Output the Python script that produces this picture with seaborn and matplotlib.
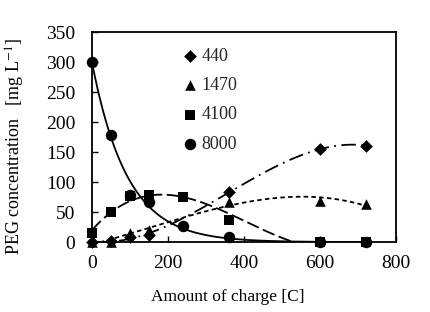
import numpy as np
import pandas as pd
import matplotlib
matplotlib.use("Agg")
import matplotlib.pyplot as plt
import seaborn as sns

# ======================
# datos
# ======================
charge = [0, 50, 100, 150, 240, 360, 600, 720]
peg_440 = [0, 2, 8, 12, np.nan, 83, 155, 161]
peg_1470 = [0, 1, 15, 20, np.nan, 67, 69, 63]
peg_4100 = [15, 50, 77, 78, 76, 37, 0, 0]
peg_8000 = [300, 178, 78, 67, 27, 9, 0, 0]
series_names = ["440", "1470", "4100", "8000"]

sns.set_theme(style="white")
plt.rcParams["font.family"] = ["Liberation Serif", "DejaVu Serif"]
plt.rcParams["mathtext.fontset"] = "stix"

df = pd.DataFrame({"charge": charge, "440": peg_440, "1470": peg_1470,
                   "4100": peg_4100, "8000": peg_8000})

fig = plt.figure(figsize=(4.3, 3.12), dpi=100)
ax = fig.add_axes([0.214, 0.224, 0.707, 0.673])

# curvas de tendencia (ajuste a los puntos)
xs = np.linspace(0, 720, 400)

def ajuste_poly(col, grado, hasta=None):
    d = df[["charge", col]].dropna()
    if hasta is not None:
        d = d[d["charge"] <= hasta]
    p = np.polyfit(d["charge"], d[col], grado)
    y = np.polyval(p, xs)
    return np.clip(y, 0, None)

def ajuste_exp(col):
    d = df[["charge", col]].dropna()
    d = d[d[col] > 0]
    p = np.polyfit(d["charge"], np.log(d[col]), 1, w=d[col])
    return np.exp(np.polyval(p, xs))

y440 = ajuste_poly("440", 3)
y1470 = ajuste_poly("1470", 3)
y4100 = ajuste_poly("4100", 3)
# una vez que llega a cero se queda en cero
primer_cero = np.argmax((y4100 <= 0) & (xs > 300))
if primer_cero > 0:
    y4100[primer_cero:] = 0
y8000 = ajuste_exp("8000")

curvas = pd.DataFrame({"x": xs, "440": y440, "1470": y1470, "4100": y4100, "8000": y8000})
estilos = {"440": (0, (8, 3, 1, 3)), "1470": (0, (2.5, 1.8)),
           "4100": (0, (7, 2.5)), "8000": "-"}
for s in series_names:
    sns.lineplot(data=curvas, x="x", y=s, ax=ax, color="black", lw=1.3,
                 linestyle=estilos[s], legend=False)

marcadores = {"440": "D", "1470": "^", "4100": "s", "8000": "o"}
tamanos = {"440": 42, "1470": 58, "4100": 58, "8000": 68}
for s in series_names:
    sns.scatterplot(data=df, x="charge", y=s, ax=ax, marker=marcadores[s],
                    s=tamanos[s], color="black", edgecolor="black", linewidth=0,
                    label=s, zorder=5, clip_on=False)

ax.set_xlim(0, 800)
ax.set_ylim(0, 350)
ax.set_xticks([0, 200, 400, 600, 800])
ax.set_yticks(np.arange(0, 351, 50))
ax.tick_params(direction="in", length=4, width=1, colors="black", labelsize=14,
               left=True, bottom=True)
ax.tick_params(axis="x", pad=9)
ax.tick_params(axis="y", pad=12)
for sp in ax.spines.values():
    sp.set_color("black")
    sp.set_linewidth(1.3)
ax.set_xlabel("Amount of charge [C]", fontsize=12.5, color="black")
ax.set_ylabel("PEG concentration   [mg L$^{-1}$]", fontsize=13, color="black")
ax.xaxis.set_label_coords(0.447, -0.225)
ax.yaxis.set_label_coords(-0.215, 0.455)

leg = ax.legend(loc="upper left", bbox_to_anchor=(0.27, 0.96), frameon=False,
                fontsize=13, handletextpad=0.1, labelspacing=0.68,
                handlelength=1.0, borderaxespad=0)

fig.savefig("out.png", dpi=100)
